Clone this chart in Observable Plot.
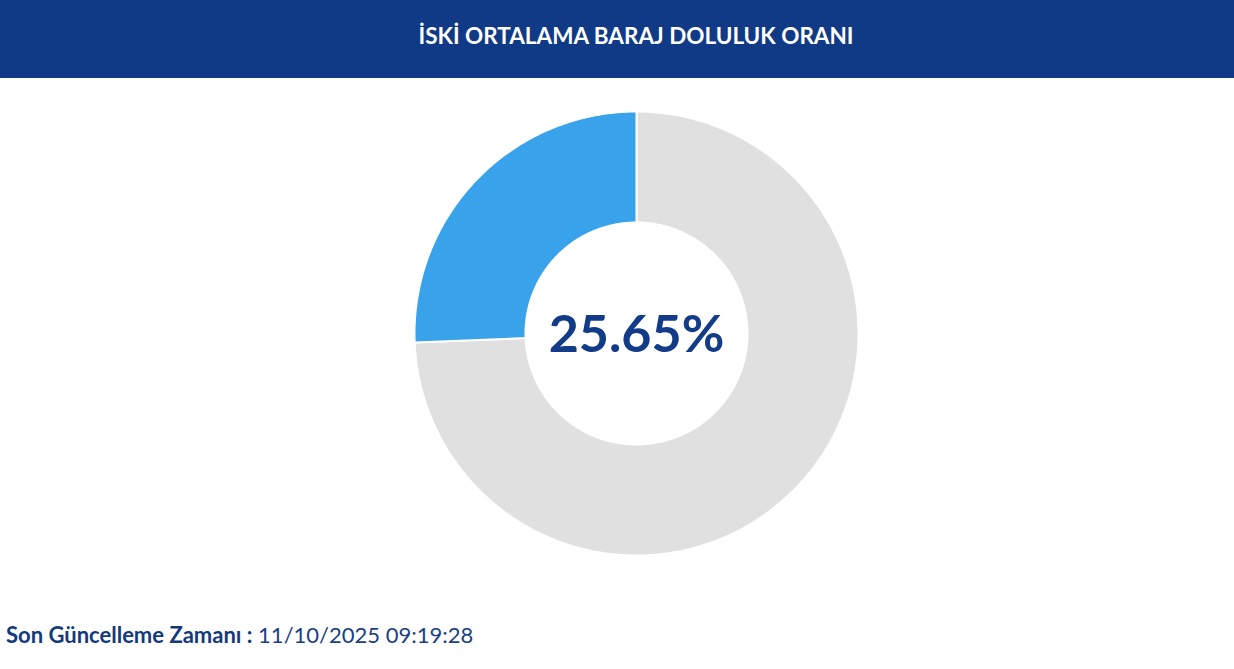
<!DOCTYPE html>
<html><head><meta charset="utf-8">
<script src="https://cdn.jsdelivr.net/npm/d3@7"></script>
<script src="https://cdn.jsdelivr.net/npm/@observablehq/plot@0.6"></script>
<style>
html,body{margin:0;padding:0;background:#fff;font-family:Lato,"Noto Sans",sans-serif;}
#header{height:78px;background:#103a85;color:#fff;display:flex;align-items:center;justify-content:center;font-weight:700;font-size:22.5px;padding-left:38px;padding-bottom:8px;box-sizing:border-box}
#chart{height:532px}
#footer{font-size:22px;line-height:26px;color:#143a7e;padding-left:6px;margin-top:12px}
#footer b{font-weight:700}
#footer span{font-weight:400;color:#1a3f85}
</style></head>
<body>
<div id="header">İSKİ ORTALAMA BARAJ DOLULUK ORANI</div>
<div id="chart"></div>
<div id="footer"><b>Son Güncelleme Zamanı :</b> <span>11/10/2025 09:19:28</span></div>
<script>
const categories = ["Boş", "Dolu"];
const values = [74.35, 25.65];
const colors = ["#e0e0e0", "#38a2ea"];
const centerLabel = "25.65%";

const pie = d3.pie().sort(null).value(d => d.value)(categories.map((c, i) => ({category: c, value: values[i]})));
const rows = [];
pie.forEach((s, i) => {
  const n = 200;
  const pts = [];
  for (let k = 0; k <= n; k++) { const a = s.startAngle + (s.endAngle - s.startAngle) * k / n; pts.push([Math.sin(a), Math.cos(a)]); }
  for (let k = n; k >= 0; k--) { const a = s.startAngle + (s.endAngle - s.startAngle) * k / n; pts.push([0.5 * Math.sin(a), 0.5 * Math.cos(a)]); }
  pts.push(pts[0]);
  pts.forEach(p => rows.push({category: s.data.category, x: p[0], y: p[1]}));
});

const cx = 636, cy = 255, R = 222;
const chart = Plot.plot({
  width: 1234, height: 532, margin: 0,
  style: {background: "transparent", overflow: "visible"},
  x: {domain: [-1, 1], range: [cx - R, cx + R], axis: null},
  y: {domain: [-1, 1], range: [cy + R, cy - R], axis: null},
  color: {domain: categories, range: colors},
  marks: [
    Plot.line(rows, {x: "x", y: "y", z: "category", fill: "category", stroke: "white", strokeWidth: 2, curve: "linear"}),
    Plot.text([centerLabel], {x: () => 0, y: () => 0, text: d => d, fontSize: 52, fontWeight: 700, fill: "#123c87", fontFamily: "Lato, sans-serif", dy: 2})
  ]
});
document.getElementById("chart").appendChild(chart);
</script>
</body></html>
